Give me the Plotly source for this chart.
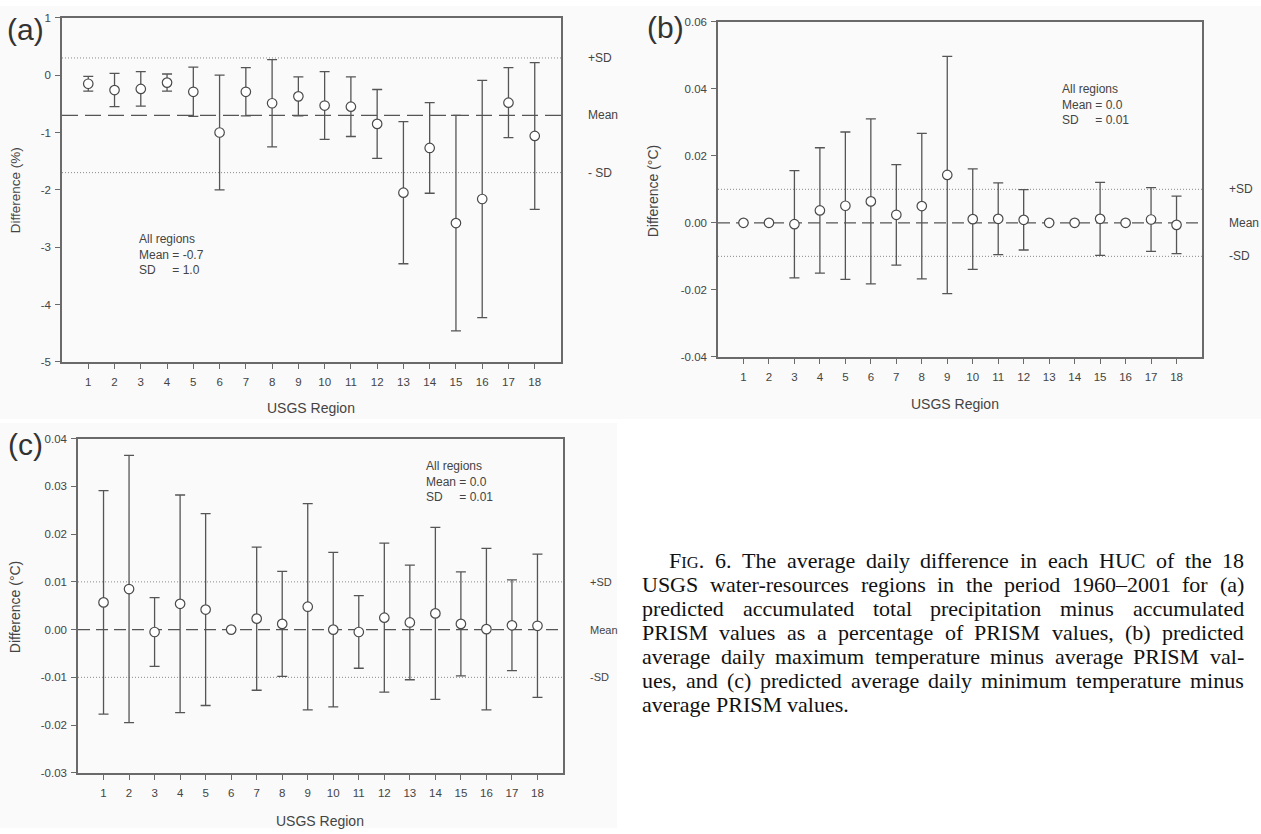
import plotly.graph_objects as go

# ---------------- data ----------------
regions = list(range(1, 19))
region_labels = [str(r) for r in regions]

# (a) predicted minus PRISM accumulated precipitation (% of PRISM)
precip_mean = [-0.15, -0.26, -0.24, -0.13, -0.29, -1.00, -0.29, -0.49, -0.37,
               -0.53, -0.55, -0.85, -2.05, -1.27, -2.58, -2.16, -0.48, -1.06]
precip_sd = [0.13, 0.29, 0.30, 0.15, 0.43, 1.00, 0.42, 0.76, 0.34,
             0.59, 0.52, 0.60, 1.24, 0.79, 1.88, 2.07, 0.61, 1.28]

# (b) predicted minus PRISM average daily maximum temperature (deg C)
tmax_mean = [0.0, 0.0, -0.0004, 0.0037, 0.0051, 0.0064, 0.0024, 0.0050, 0.0143,
             0.0011, 0.0012, 0.0009, 0.0, 0.0, 0.0012, 0.0, 0.0010, -0.0006]
tmax_sd = [0.0, 0.0, 0.0160, 0.0187, 0.0220, 0.0246, 0.0150, 0.0217, 0.0354,
           0.0150, 0.0107, 0.0090, 0.0, 0.0, 0.0109, 0.0, 0.0095, 0.0086]

# (c) predicted minus PRISM average daily minimum temperature (deg C)
tmin_mean = [0.0057, 0.0085, -0.0005, 0.0054, 0.0042, 0.0, 0.0023, 0.0012, 0.0048,
             0.0, -0.0005, 0.0025, 0.0015, 0.0034, 0.0012, 0.0001, 0.0009, 0.0008]
tmin_sd = [0.0234, 0.0280, 0.0072, 0.0228, 0.0201, 0.0, 0.0150, 0.0110, 0.0216,
           0.0162, 0.0076, 0.0156, 0.0120, 0.0180, 0.0109, 0.0169, 0.0095, 0.0150]

# overall statistics per panel
overall_mean = [-0.7, 0.0, 0.0]
overall_sd = [1.0, 0.01, 0.01]
stats_text = [("-0.7", "1.0"), ("0.0", "0.01"), ("0.0", "0.01")]

# y tick labels
ya_ticks = [1, 0, -1, -2, -3, -4, -5]
ya_text = ["1", "0", "-1", "-2", "-3", "-4", "-5"]
yb_ticks = [0.06, 0.04, 0.02, 0.0, -0.02, -0.04]
yb_text = ["0.06", "0.04", "0.02", "0.00", "-0.02", "-0.04"]
yc_ticks = [0.04, 0.03, 0.02, 0.01, 0.0, -0.01, -0.02, -0.03]
yc_text = ["0.04", "0.03", "0.02", "0.01", "0.00", "-0.01", "-0.02", "-0.03"]

caption_lines = [
    "FIG. 6. The average daily difference in each HUC of the 18",
    "USGS water-resources regions in the period 1960\u20132001 for (a)",
    "predicted accumulated total precipitation minus accumulated",
    "PRISM values as a percentage of PRISM values, (b) predicted",
    "average daily maximum temperature minus average PRISM val-",
    "ues, and (c) predicted average daily minimum temperature minus",
    "average PRISM values.",
]

# ---------------- layout helpers ----------------
W, H = 1261, 834


def px(x):
    return x / W


def py(y):
    return 1 - y / H


SANS = "Liberation Sans, Arial, sans-serif"
SERIF = "Liberation Serif, Times New Roman, serif"
TXT = "#444444"
AX = "#6a6a6a"
BG = "#fafafa"

fig = go.Figure()

panels = [
    dict(ax="", mean=precip_mean, sd=precip_sd, ticks=ya_ticks, ttext=ya_text,
         yr=[-5, 1], xd=[62, 561], yd=[12, 361], dash="16px,7px",
         title="Difference (%)", tsize=13.5, tx=15, ty=187,
         label="(a)", lx=25, ly=24,
         xtx=311, xty=408,
         sdx=586, sdlab=["+SD", "Mean", "- SD"], sdsize=12,
         stx=137, sty=252),
    dict(ax="2", mean=tmax_mean, sd=tmax_sd, ticks=yb_ticks, ttext=yb_text,
         yr=[-0.04, 0.06], xd=[718, 1202], yd=[16, 356], dash="12px,6px",
         title="Difference (\u00b0C)", tsize=14, tx=653, ty=188,
         label="(b)", lx=665, ly=22,
         xtx=955, xty=404,
         sdx=1227, sdlab=["+SD", "Mean", "-SD"], sdsize=12,
         stx=1060, sty=100),
    dict(ax="3", mean=tmin_mean, sd=tmin_sd, ticks=yc_ticks, ttext=yc_text,
         yr=[-0.03, 0.04], xd=[78, 563], yd=[439, 778], dash="12px,6px",
         title="Difference (\u00b0C)", tsize=14, tx=15, ty=610,
         label="(c)", lx=25, ly=445,
         xtx=320, xty=827,
         sdx=588, sdlab=["+SD", "Mean", "-SD"], sdsize=11,
         stx=424, sty=482),
]

shapes = []
annotations = []

# panel image backgrounds (light grey), caption area stays white
for (x0, y0, x1, y1) in [(0, 0, 636, 419), (636, 0, 1261, 419), (0, 423, 617, 834)]:
    shapes.append(dict(type="rect", xref="paper", yref="paper",
                       x0=px(x0), x1=px(x1), y0=py(y1), y1=py(y0),
                       fillcolor=BG, line=dict(width=0), layer="below"))

axis_common = dict(
    showline=True, linecolor=AX, linewidth=1.5, mirror=True,
    showgrid=False, zeroline=False, ticks="outside", ticklen=5,
    tickwidth=1.2, tickcolor=AX, fixedrange=True,
    tickfont=dict(family=SANS, size=11.5, color=TXT),
)

layout_axes = {}
for i, p in enumerate(panels):
    xa = "x" + p["ax"]
    ya = "y" + p["ax"]
    fig.add_trace(go.Scatter(
        x=regions, y=p["mean"], xaxis=xa, yaxis=ya, mode="markers",
        marker=dict(symbol="circle", size=9.5, color="white",
                    line=dict(color="#4a4a4a", width=1.2)),
        error_y=dict(type="data", array=p["sd"], visible=True,
                     color="#555555", thickness=1.3, width=5),
        showlegend=False, hoverinfo="skip",
    ))
    layout_axes["xaxis" + p["ax"]] = dict(
        axis_common, domain=[px(p["xd"][0]), px(p["xd"][1])], range=[0, 19],
        tickvals=regions, ticktext=region_labels, anchor=ya,
        ticklabelstandoff=4,
    )
    layout_axes["yaxis" + p["ax"]] = dict(
        axis_common, domain=[py(p["yd"][1]), py(p["yd"][0])], range=p["yr"],
        tickvals=p["ticks"], ticktext=p["ttext"], anchor=xa,
        ticklabelstandoff=2,
    )
    m, s = overall_mean[i], overall_sd[i]
    xdom = xa + " domain"
    shapes.append(dict(type="line", xref=xdom, yref=ya, x0=0, x1=1, y0=m, y1=m,
                       line=dict(color="#555555", width=1.3, dash=p["dash"]),
                       layer="below"))
    for v in (m + s, m - s):
        shapes.append(dict(type="line", xref=xdom, yref=ya, x0=0, x1=1, y0=v, y1=v,
                           line=dict(color="#8a8a8a", width=1, dash="1px,2px"),
                           layer="below"))
    # right-side labels
    for lab, v in zip(p["sdlab"], (m + s, m, m - s)):
        annotations.append(dict(text=lab, xref="paper", yref=ya, x=px(p["sdx"]), y=v,
                                xanchor="left", yanchor="middle", showarrow=False,
                                font=dict(family=SANS, size=p["sdsize"], color=TXT)))
    # stats box
    mt, st = stats_text[i]
    annotations.append(dict(
        text="All regions<br>Mean = " + mt + "<br>SD" + "\u00a0" * 5 + "= " + st,
        xref="paper", yref="paper", x=px(p["stx"]), y=py(p["sty"]),
        xanchor="left", yanchor="middle", align="left", showarrow=False,
        font=dict(family=SANS, size=12, color=TXT)))
    # axis titles
    annotations.append(dict(text=p["title"], xref="paper", yref="paper",
                            x=px(p["tx"]), y=py(p["ty"]), textangle=-90,
                            xanchor="center", yanchor="middle", showarrow=False,
                            font=dict(family=SANS, size=p["tsize"], color=TXT)))
    annotations.append(dict(text="USGS Region", xref="paper", yref="paper",
                            x=px(p["xtx"]), y=py(p["xty"]),
                            xanchor="center", yanchor="middle", showarrow=False,
                            font=dict(family=SANS, size=14, color=TXT)))
    annotations.append(dict(text=p["label"], xref="paper", yref="paper",
                            x=px(p["lx"]), y=py(p["ly"]),
                            xanchor="center", yanchor="middle", showarrow=False,
                            font=dict(family=SANS, size=30, color="#333333")))

# ---------------- caption (justified by word placement) ----------------
# Times / Liberation Serif advance widths (per 1000 em)
TW = {" ": 250, ".": 250, ",": 250, "-": 333, "(": 333, ")": 333, "\u2013": 500}
for ch in "0123456789":
    TW[ch] = 500
TW.update(dict(A=722, B=667, C=667, D=722, E=611, F=556, G=722, H=722, I=333,
               J=389, K=722, L=611, M=889, N=722, O=722, P=556, Q=722, R=667,
               S=556, T=611, U=722, V=722, W=944, X=722, Y=722, Z=611))
TW.update(dict(a=444, b=500, c=444, d=500, e=444, f=333, g=500, h=500, i=278,
               j=278, k=500, l=278, m=778, n=500, o=500, p=500, q=500, r=333,
               s=389, t=278, u=500, v=500, w=722, x=500, y=500, z=444))

CAP = 22.0
SC = 16.5


def word_width(w):
    if w == "FIG.":
        return (TW["F"] + TW["."]) * CAP / 1000 + (TW["I"] + TW["G"]) * SC / 1000
    return sum(TW.get(ch, 500) for ch in w) * CAP / 1000


def word_text(w):
    if w == "FIG.":
        return 'F<span style="font-size:%gpx">IG</span>.' % SC
    return w


cap_left = [668] + [641] * 6
cap_right = 1243
base0, lead = 570, 24.3
for li, line in enumerate(caption_lines):
    words = line.split(" ")
    widths = [word_width(w) for w in words]
    if li < len(caption_lines) - 1 and len(words) > 1:
        gap = (cap_right - cap_left[li] - sum(widths)) / (len(words) - 1)
    else:
        gap = TW[" "] * CAP / 1000
    x = cap_left[li]
    yb = base0 + li * lead
    for w, wd in zip(words, widths):
        annotations.append(dict(text=word_text(w), xref="paper", yref="paper",
                                x=px(x), y=py(yb - 0.34 * CAP),
                                xanchor="left", yanchor="middle", showarrow=False,
                                borderpad=0,
                                font=dict(family=SERIF, size=CAP, color="#111111")))
        x += wd + gap

fig.update_layout(
    width=W, height=H, autosize=False,
    margin=dict(l=0, r=0, t=0, b=0),
    paper_bgcolor="white", plot_bgcolor=BG,
    shapes=shapes, annotations=annotations,
    showlegend=False,
    **layout_axes,
)

fig.write_html("out.html", config={"displayModeBar": False},
               post_script="document.body.style.margin='0';")
